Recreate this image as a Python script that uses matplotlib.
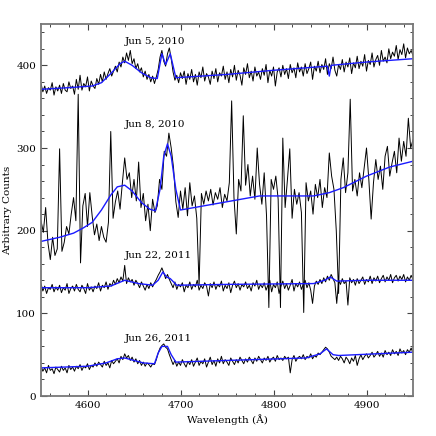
import numpy as np
import matplotlib
matplotlib.use("Agg")
import matplotlib.pyplot as plt
from matplotlib.ticker import MultipleLocator

plt.rcParams['font.family'] = ['DejaVu Serif']

# ---------------- data ----------------
wl_start, wl_end = 4550, 4950

jun5_flux = [
    378, 368, 375, 366, 373, 370, 379, 364, 374, 369,
    376, 366, 378, 370, 368, 380, 372, 375, 365, 383,
    371, 388, 370, 378, 374, 386, 369, 381, 375, 372,
    384, 377, 389, 380, 392, 383, 390, 396, 387, 393,
    399, 392, 404, 398, 410, 403, 415, 406, 418, 402,
    408, 396, 402, 392, 397, 386, 393, 383, 389, 380,
    387, 378, 386, 395, 410, 418, 405, 399, 414, 421,
    408, 392, 382, 388, 379, 391, 384, 393, 377, 390,
    383, 395, 380, 389, 376, 392, 385, 398, 381, 390,
    386, 377, 393, 384, 396, 380, 391, 387, 399, 383,
    392, 379, 395, 386, 400, 382, 394, 388, 376, 397,
    389, 402, 385, 393, 381, 398, 387, 392, 383, 396,
    388, 401, 379, 394, 387, 398, 375, 392, 397, 386,
    400, 389, 396, 384, 401, 391, 397, 385, 403, 392,
    398, 387, 402, 390, 396, 404, 383, 399, 393, 405,
    391, 401, 395, 408, 389, 402, 396, 410, 394, 387,
    401, 395, 407, 392, 404, 398, 409, 390, 403, 397,
    411, 396, 405, 399, 413, 393, 406, 401, 415, 398,
    407, 412, 400, 418, 405, 410, 403, 420, 408, 416,
    411, 424, 407, 419, 413, 426, 409, 421, 414, 418,
    412]

jun8_flux = [
    212, 198, 228, 185, 165, 192, 170, 178,
    299, 175, 186, 205, 196, 220, 240, 212,
    365, 161, 230, 245, 205, 246, 218, 195,
    208, 188, 205, 192, 186, 210, 320, 215,
    235, 248, 226, 258, 288, 262, 270, 240,
    262, 236, 283, 228, 245, 212, 232, 200,
    238, 222, 230, 262, 250, 296, 290, 318,
    300, 276, 235, 216, 248, 226, 252, 218,
    258, 230, 242, 215, 134, 245, 232, 248,
    236, 250, 231, 246, 238, 252, 228, 244,
    236, 258, 357, 240, 196, 262, 248, 339,
    255, 280, 242, 266, 238, 300, 256, 232,
    270, 218, 107, 262, 250, 266, 238, 107,
    312, 228, 262, 299, 215, 250, 232, 246,
    222, 101, 258, 236, 248, 220, 256, 240,
    262, 228, 252, 240, 294, 266, 250, 200,
    124, 262, 288, 246, 270, 359, 248, 262,
    242, 270, 252, 276, 300, 262, 214, 258,
    286, 262, 278, 250, 290, 302, 266, 282,
    296, 270, 312, 284, 308, 290, 336, 300,
    310]

jun22_flux = [
    136, 127, 133, 124, 131, 129, 135, 126, 132, 128,
    134, 125, 131, 128, 136, 124, 130, 133, 127, 135,
    129, 126, 134, 130, 124, 136, 128, 132, 126, 133,
    130, 137, 127, 134, 131, 138, 129, 136, 133, 140,
    135, 142, 137, 144, 139, 158, 136, 143, 138, 141,
    134, 140, 136, 131, 138, 133, 128, 135, 130, 137,
    132, 137, 141, 146, 150, 155, 149, 142, 147, 141,
    136, 131, 138, 129, 135, 132, 137, 126, 134, 131,
    138, 129, 135, 132, 140, 128, 134, 130, 137, 133,
    121, 136, 131, 138, 129, 135, 132, 139, 127, 134,
    130, 137, 125, 134, 139, 131, 136, 128, 135, 132,
    138, 130, 134, 127, 137, 133, 140, 129, 135, 131,
    137, 128, 134, 140, 126, 135, 131, 138, 124, 133,
    139, 130, 136, 128, 134, 141, 127, 136, 132, 138,
    129, 135, 140, 131, 137, 128, 112, 133, 139, 135,
    141, 136, 143, 138, 145, 140, 147, 142, 137, 112,
    140, 135, 142, 136, 139, 110, 143, 137, 141, 134,
    142, 136, 140, 144, 135, 141, 138, 145, 136, 143,
    139, 145, 137, 142, 146, 138, 144, 140, 147, 137,
    143, 146, 139, 145, 141, 147, 138, 144, 140, 146,
    141]

jun26_flux = [
    36, 30, 34, 28, 37, 31, 33, 27, 35, 32,
    29, 36, 31, 34, 28, 37, 32, 35, 30, 36,
    33, 38, 31, 36, 34, 39, 32, 37, 35, 40,
    36, 41, 38, 35, 42, 37, 40, 34, 43, 39,
    42, 45, 40, 48, 44, 51, 46, 49, 43, 47,
    41, 45, 39, 43, 37, 41, 36, 40, 38, 35,
    39, 38, 44, 52, 58, 61, 63, 59, 57, 50,
    44, 38, 43, 36, 41, 37, 44, 39, 35, 42,
    38, 44, 36, 41, 46, 37, 42, 39, 45, 35,
    41, 47, 38, 43, 36, 45, 40, 48, 39, 44,
    41, 37, 46, 42, 38, 44, 40, 47, 43, 39,
    45, 41, 47, 43, 39, 46, 42, 48, 44, 40,
    46, 43, 48, 41, 45, 47, 42, 49, 44, 46,
    43, 48, 45, 47, 28, 44, 49, 42, 46, 48,
    45, 50, 44, 48, 46, 51, 45, 49, 47, 52,
    50, 53, 56, 59, 57, 53, 48, 46, 44, 47,
    43, 48, 45, 40, 47, 44, 39, 46, 42, 49,
    37, 45, 50, 44, 48, 51, 46, 49, 53, 47,
    50, 54, 48, 52, 47, 55, 50, 53, 49, 56,
    51, 54, 49, 57, 52, 55, 50, 56, 53, 58,
    52]

fit5_wl = [4550, 4580, 4605, 4615, 4625, 4635, 4640, 4648, 4658, 4668, 4675,
           4680, 4684, 4689, 4695, 4750, 4800, 4858, 4860, 4862, 4900, 4950]
fit5_flux = [371, 373, 375, 379, 390, 402, 405, 400, 391, 385, 384,
             414, 401, 414, 385, 389, 394, 399, 387, 400, 404, 408]

fit8_wl = [4550, 4570, 4585, 4595, 4605, 4615, 4625, 4632, 4640, 4648, 4658,
           4667, 4673, 4678, 4682, 4686, 4690, 4695, 4700, 4785, 4843, 4860,
           4875, 4900, 4925, 4950]
fit8_flux = [187, 192, 197, 203, 210, 225, 243, 253, 255, 248, 234,
             226, 224, 250, 290, 305, 290, 250, 225, 242, 242, 246,
             252, 266, 277, 284]

fit22_wl = [4550, 4600, 4625, 4640, 4655, 4670, 4676, 4681, 4685, 4689, 4696,
            4750, 4843, 4855, 4861, 4868, 4900, 4950]
fit22_flux = [131, 131, 133, 140, 136, 134, 140, 150, 144, 142, 134,
              135, 136, 140, 144, 139, 140, 140]

fit26_wl = [4550, 4600, 4620, 4632, 4640, 4650, 4660, 4672, 4676, 4680, 4686,
            4690, 4695, 4750, 4835, 4850, 4857, 4864, 4870, 4950]
fit26_flux = [34, 36, 40, 45, 46, 43, 40, 39, 52, 60, 60,
              50, 41, 43, 46, 51, 57, 50, 49, 53]

labels = ["Jun 5, 2010", "Jun 8, 2010", "Jun 22, 2011", "Jun 26, 2011"]
label_y = [429, 329, 170, 70]
label_x = 4640

# ---------------- plot ----------------
fig = plt.figure(figsize=(4.36, 4.36), dpi=100)
ax = fig.add_axes([41/436, 40/436, 372/436, 372/436])

spectra = [jun5_flux, jun8_flux, jun22_flux, jun26_flux]
fits = [(fit5_wl, fit5_flux), (fit8_wl, fit8_flux),
        (fit22_wl, fit22_flux), (fit26_wl, fit26_flux)]

for flux, (fw, ff) in zip(spectra, fits):
    wl = np.linspace(wl_start, wl_end, len(flux))
    ax.plot(wl, flux, color='black', lw=0.7)
    ax.plot(fw, ff, color='#1a1aff', lw=1.0)

for lab, ly in zip(labels, label_y):
    ax.text(label_x, ly, lab, fontsize=7.5, ha='left', va='center')

ax.set_xlim(4550, 4950)
ax.set_ylim(0, 450)
ax.xaxis.set_major_locator(MultipleLocator(100))
ax.xaxis.set_minor_locator(MultipleLocator(20))
ax.yaxis.set_major_locator(MultipleLocator(100))
ax.yaxis.set_minor_locator(MultipleLocator(20))
ax.tick_params(which='both', direction='in', top=True, right=True,
               labelsize=7.5, color='#444444')
ax.tick_params(which='major', length=4.5, width=0.8)
ax.tick_params(which='minor', length=2.2, width=0.7)
for sp in ax.spines.values():
    sp.set_color('#777777')
    sp.set_linewidth(1.3)

ax.set_xlabel("Wavelength (Å)", fontsize=7.5, labelpad=3)
ax.set_ylabel("Arbitrary Counts", fontsize=7.5, labelpad=3)

fig.savefig("out.png", dpi=100)
